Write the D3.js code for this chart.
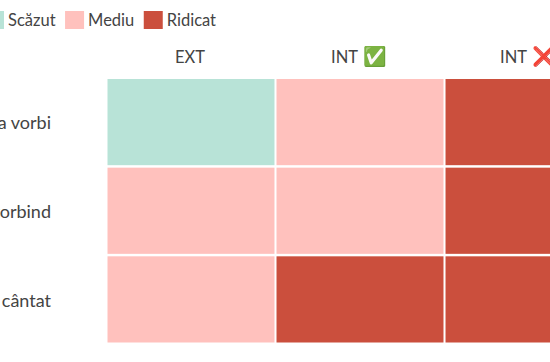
<!DOCTYPE html>
<html lang="ro">
<head>
    <meta charset="UTF-8">
    <script src="https://d3js.org/d3.v7.min.js"></script>
    <style>
        html, body { margin: 0; background: white; overflow: hidden; }
        svg { display: block; }
        text { font-family: Lato, "Noto Sans", sans-serif; fill: #444; }
    </style>
</head>
<body>
    <svg id="chart" width="550" height="362"></svg>
    <script>
        const columns = ["EXT", "INT ✅", "INT ❌"];
        const rows = ["Înainte de a vorbi", "În timp ce vorbind", "După ce am cântat"];
        const levels = ["Scăzut", "Mediu", "Ridicat"];
        const levelColors = ["#b8e3d7", "#ffc1bd", "#cb4f3d"];
        // one list per row, in column order
        const row1 = ["Scăzut", "Mediu", "Ridicat"];
        const row2 = ["Mediu", "Mediu", "Ridicat"];
        const row3 = ["Mediu", "Ridicat", "Ridicat"];

        const cells = [row1, row2, row3].flatMap((vals, i) =>
            vals.map((v, j) => ({ row: rows[i], col: columns[j], level: v })));

        const svg = d3.select("#chart");

        const x = d3.scaleBand().domain(columns).range([107.5, 612.5]).paddingInner(0.012);
        const y = d3.scaleBand().domain(rows).range([79, 342.5]).paddingInner(0.028);
        const color = d3.scaleOrdinal().domain(levels).range(levelColors);

        svg.selectAll(".cell")
            .data(cells)
            .enter().append("rect")
            .attr("class", "cell")
            .attr("x", d => x(d.col))
            .attr("y", d => y(d.row))
            .attr("width", x.bandwidth())
            .attr("height", y.bandwidth())
            .attr("fill", d => color(d.level));

        // Axes
        const xAxis = svg.append("g")
            .attr("transform", "translate(-1,66)")
            .call(d3.axisTop(x).tickSize(0));
        xAxis.select(".domain").remove();
        xAxis.selectAll("text")
            .style("font-size", "16.5px")
            .style("fill", "#444")
            .each(function(d) {
                // emoji is a bit bigger than the letters
                const parts = d.split(" ");
                const t = d3.select(this).text(null);
                t.append("tspan").text(parts[0]);
                if (parts[1]) {
                    t.append("tspan").text(" " + parts[1]).style("font-size", "19px");
                }
            });

        const yAxis = svg.append("g")
            .attr("transform", "translate(54,1.5)")
            .call(d3.axisLeft(y).tickSize(0));
        yAxis.select(".domain").remove();
        yAxis.selectAll("text").style("font-size", "18px").style("fill", "#444");

        // Legend
        let legendX = -15;
        levels.forEach(l => {
            const g = svg.append("g").attr("transform", `translate(${legendX},11)`);
            g.append("rect").attr("width", 19).attr("height", 18).attr("fill", color(l));
            const t = g.append("text").attr("x", 23).attr("y", 15)
                .style("font-size", "16.5px").text(l);
            legendX += 23 + t.node().getComputedTextLength() + 9.5;
        });
    </script>
</body>
</html>
